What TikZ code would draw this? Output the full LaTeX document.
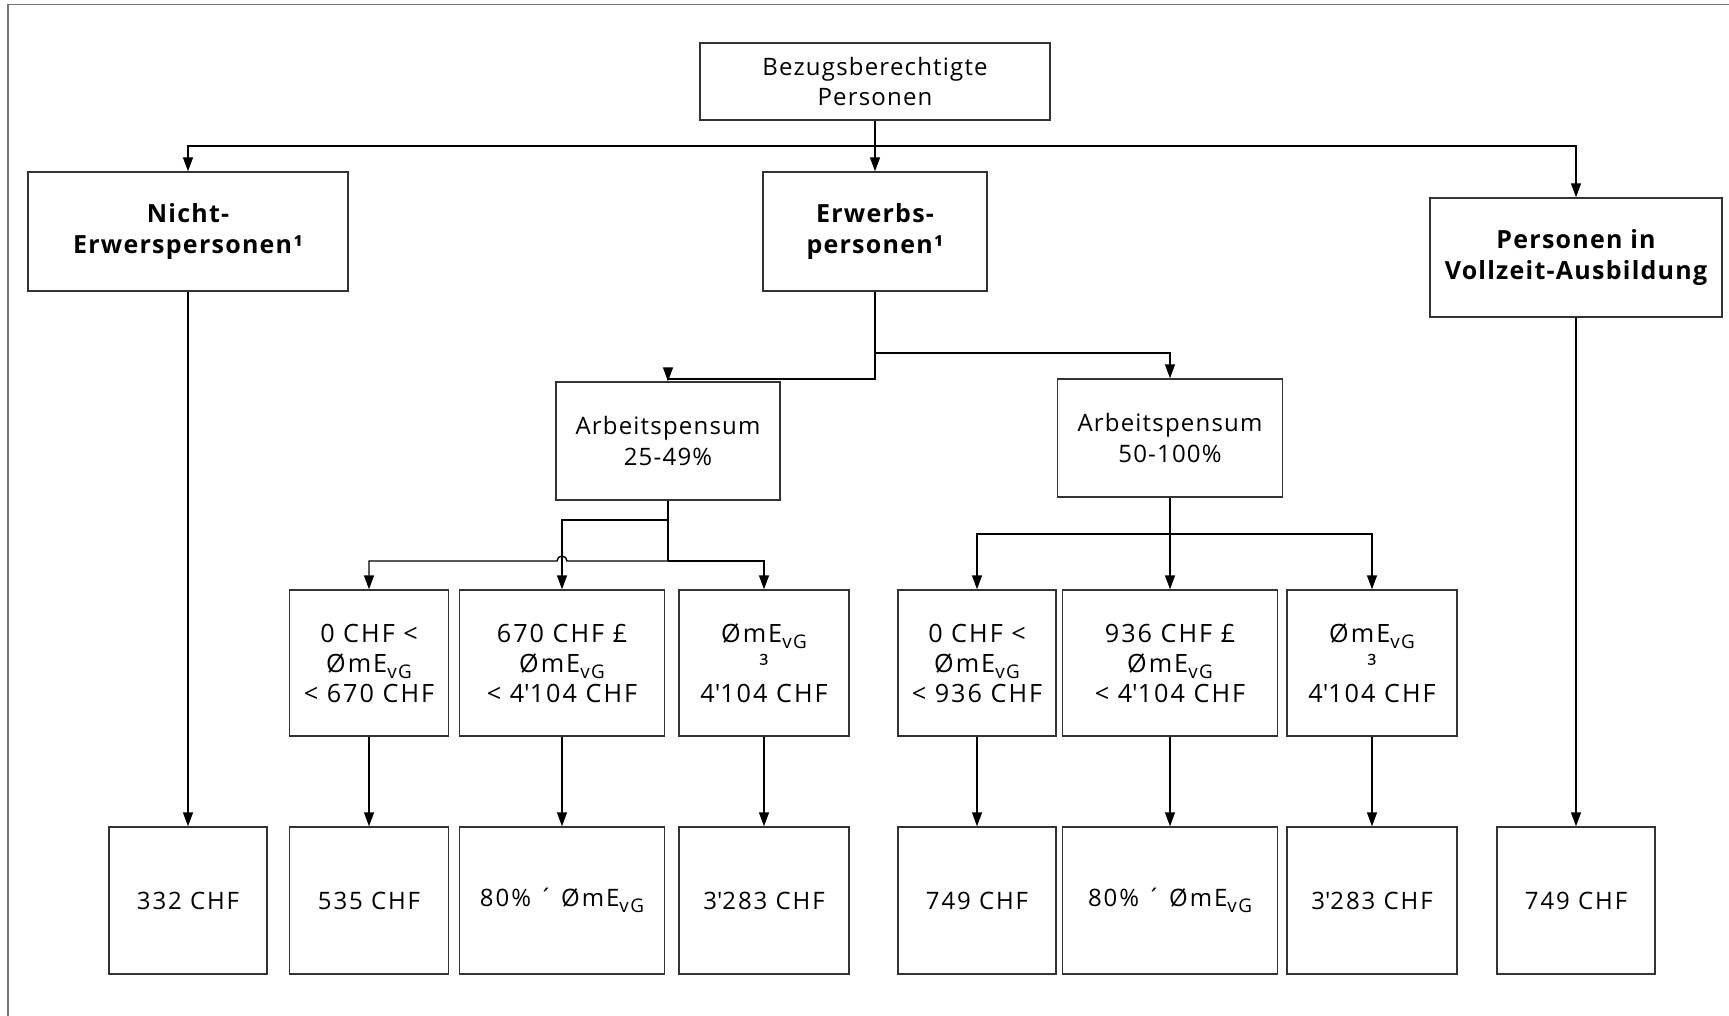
\documentclass[tikz,border=0pt]{standalone}
\usepackage{fontspec}
\usepackage{tikz}
\usetikzlibrary{arrows.meta,calc}
\newfontfamily\flowfont{Open Sans}[LetterSpace=5]
\newfontfamily\flowwide{Open Sans}[LetterSpace=8]
\newfontfamily\flowsum{Open Sans}[LetterSpace=8]
\newcommand{\ap}{\textquotesingle}
\newcommand{\mevg}{ØmE\raisebox{-3pt}{\fontsize{9.4}{9.4}\selectfont vG}}
\tikzset{
    flow box/.style={
        draw=black!80,
        line width=0.7pt,
        fill=white,
        align=center,
        inner sep=2pt,
        font=\flowfont\fontsize{12}{15.2}\selectfont
    },
    flow head/.style={
        flow box,
        font=\flowfont\bfseries\fontsize{12.5}{15.5}\selectfont
    },
    flow class/.style={
        flow box,
        minimum height=73pt,
        font=\flowwide\fontsize{12.6}{15}\selectfont
    },
    flow sum/.style={
        flow box,
        minimum height=73.5pt,
        font=\flowsum\fontsize{12}{15}\selectfont
    },
    flow line/.style={line width=0.7pt, black},
    flow arrow/.style={-{Triangle[length=7pt,width=5pt]}, line width=0.7pt, black},
    flow frame/.style={line width=0.8pt, black!55}
}

\begin{document}
\begin{tikzpicture}[x=0.5pt,y=-0.5pt]
    \useasboundingbox (0,0) rectangle (1729,1016);
    \draw[flow frame] (8,1016) -- (8,4.5) -- (1729,4.5);

    % first levels
    \node[flow box, minimum width=175pt, minimum height=38.5pt] (root) at (875,81.5) {Bezugsberechtigte\\Personen};
    \node[flow head, minimum width=160pt, minimum height=59.5pt] (nicht) at (188,231.5) {Nicht-\\Erwerspersonen¹};
    \node[flow head, minimum width=112pt, minimum height=59.5pt] (erw) at (875,231.5) {Erwerbs-\\personen¹};
    \node[flow head, minimum width=146pt, minimum height=59.5pt] (voll) at (1576,257.5) {Personen in\\Vollzeit-Ausbildung};

    \node[flow box, minimum width=112pt, minimum height=59pt] (ap1) at (668,441) {Arbeitspensum\\25-49\%};
    \node[flow box, minimum width=112.5pt, minimum height=59pt] (ap2) at (1170,438) {Arbeitspensum\\50-100\%};

    % income classes
    \node[flow class, minimum width=79.5pt] (a1) at (369,663) {0 CHF <\\\mevg\\< 670 CHF};
    \node[flow class, minimum width=102.5pt] (a2) at (562,663) {670 CHF £\\\mevg\\< 4\ap104 CHF};
    \node[flow class, minimum width=85pt] (a3) at (764,663) {\mevg\\³\\4\ap104 CHF};
    \node[flow class, minimum width=79pt] (b1) at (977,663) {0 CHF <\\\mevg\\< 936 CHF};
    \node[flow class, minimum width=107.5pt] (b2) at (1170,663) {936 CHF £\\\mevg\\< 4\ap104 CHF};
    \node[flow class, minimum width=85pt] (b3) at (1372,663) {\mevg\\³\\4\ap104 CHF};

    % amounts
    \node[flow sum, minimum width=79pt] (c0) at (188,900.5) {332 CHF};
    \node[flow sum, minimum width=79.5pt] (c1) at (369,900.5) {535 CHF};
    \node[flow sum, minimum width=102.5pt] (c2) at (562,900.5) {80\% ´ \mevg};
    \node[flow sum, minimum width=85pt] (c3) at (764,900.5) {3\ap283 CHF};
    \node[flow sum, minimum width=79pt] (c4) at (977,900.5) {749 CHF};
    \node[flow sum, minimum width=107.5pt] (c5) at (1170,900.5) {80\% ´ \mevg};
    \node[flow sum, minimum width=85pt] (c6) at (1372,900.5) {3\ap283 CHF};
    \node[flow sum, minimum width=79pt] (c7) at (1576,900.5) {749 CHF};

    \coordinate (top bar) at (875,146);
    \coordinate (erw bar) at (875,353);
    \coordinate (erw left) at (668,379);
    \coordinate (ap1 jog) at (668,520);
    \coordinate (ap1 bar) at (668,561);
    \coordinate (ap2 bar) at (1170,534);

    \draw[flow arrow] (root) -- (erw);
    \draw[flow arrow] (top bar) -| (nicht);
    \draw[flow arrow] (top bar) -| (voll);

    \draw[flow arrow] (erw) |- (erw left) -- (ap1.north);
    \draw[flow arrow] (erw bar) -| (ap2);

    \draw[flow line] (ap1) -- (ap1 bar);
    \draw[flow arrow] (ap1 bar) -| (a3);
    \draw[flow arrow] (ap1 bar) -- ([xshift=2.5pt]a2.north |- ap1 bar)
        arc[start angle=0,end angle=180,radius=2.5pt] -| (a1);
    \draw[flow arrow] (ap1 jog) -| (a2);

    \draw[flow arrow] (ap2) -- (b2);
    \draw[flow arrow] (ap2 bar) -| (b1);
    \draw[flow arrow] (ap2 bar) -| (b3);

    \draw[flow arrow] (nicht) -- (c0);
    \draw[flow arrow] (voll) -- (c7);
    \foreach \u/\v in {a1/c1,a2/c2,a3/c3,b1/c4,b2/c5,b3/c6} {
        \draw[flow arrow] (\u) -- (\v);
    }
\end{tikzpicture}
\end{document}
